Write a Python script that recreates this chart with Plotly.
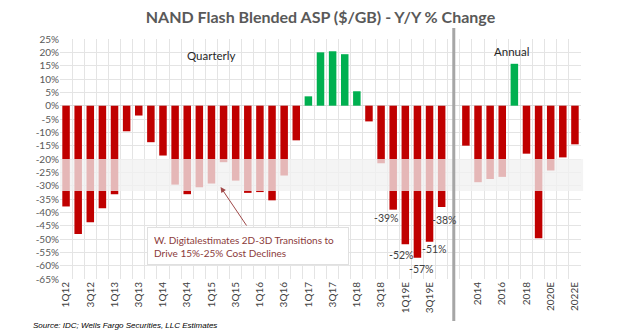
import plotly.graph_objects as go

# ---- data ----
quarters = ["1Q12", "2Q12", "3Q12", "4Q12", "1Q13", "2Q13", "3Q13", "4Q13",
            "1Q14", "2Q14", "3Q14", "4Q14", "1Q15", "2Q15", "3Q15", "4Q15",
            "1Q16", "2Q16", "3Q16", "4Q16", "1Q17", "2Q17", "3Q17", "4Q17",
            "1Q18", "2Q18", "3Q18", "4Q18", "1Q19E", "2Q19E", "3Q19E", "4Q19E"]
quarter_values = [-37.8, -48.1, -43.7, -38.5, -33.2, -9.6, -3.7, -13.7,
                  -18.7, -29.6, -33.2, -30.6, -29.2, -21.2, -28.1, -32.7,
                  -32.4, -35.5, -26.2, -13.0, 3.5, 20.0, 20.4, 19.3,
                  5.4, -5.9, -21.6, -39.0, -52.0, -57.0, -51.0, -38.0]
years = ["2013", "2014", "2015", "2016", "2017", "2018", "2019E", "2020E", "2021E", "2022E"]
year_values = [-15.0, -28.7, -27.5, -26.7, 15.7, -18.0, -49.7, -24.3, -19.4, -14.5]
gap = " "
shown_ticks = ["1Q12", "3Q12", "1Q13", "3Q13", "1Q14", "3Q14", "1Q15", "3Q15",
               "1Q16", "3Q16", "1Q17", "3Q17", "1Q18", "3Q18", "1Q19E", "3Q19E",
               "2014", "2016", "2018", "2020E", "2022E"]
labelled = ["4Q18", "1Q19E", "2Q19E", "3Q19E", "4Q19E"]
y_ticks = list(range(25, -70, -5))
band = (-32, -20)

# ---- styling ----
RED = "#C00000"
GREEN = "#00B050"
FONT = "Lato"
label_shift = {"4Q18": (-7, -8), "1Q19E": (-4, -11), "2Q19E": (4, -11),
               "3Q19E": (5, -7), "4Q19E": (3, -13)}

cats = quarters + [gap] + years
vals = quarter_values + [None] + year_values
colors = [GREEN if (v is not None and v > 0) else RED for v in vals]

fig = go.Figure()
fig.add_trace(go.Bar(x=cats, y=vals, marker=dict(color=colors, line=dict(width=0)),
                     width=0.62, hoverinfo="skip"))

ticktext = [c if c in shown_ticks else "" for c in cats]

fig.update_layout(
    width=617, height=333,
    margin=dict(l=60, r=36, t=39, b=54),
    paper_bgcolor="white", plot_bgcolor="white",
    showlegend=False,
    font=dict(family=FONT, color="#404040"),
    bargap=0.38,
    title=dict(text="<b>NAND Flash Blended ASP ($/GB) - Y/Y % Change</b>",
               x=0.5, xanchor="center", xref="paper", y=0.948, yanchor="middle",
               font=dict(size=16, color="#595959", family=FONT)),
    xaxis=dict(type="category", categoryorder="array", categoryarray=cats,
               tickmode="array", tickvals=cats, ticktext=ticktext,
               tickson="boundaries", ticks="", tickangle=-90,
               tickfont=dict(size=10, color="#404040", family=FONT),
               showgrid=True, gridcolor="#e4e4e4", gridwidth=1,
               showline=False, zeroline=False, automargin=False,
               range=[-0.5, len(cats) - 0.5]),
    yaxis=dict(range=[-65, 25], tickmode="array", tickvals=y_ticks,
               ticktext=[f"{v}%" for v in y_ticks],
               tickfont=dict(size=10, color="#595959", family=FONT),
               showgrid=True, gridcolor="#e4e4e4", gridwidth=1,
               zeroline=True, zerolinecolor="#d9d9d9", zerolinewidth=1,
               showline=False, automargin=False, ticks=""),
)

# shaded cost-decline band (overlaying the bars)
fig.add_shape(type="rect", xref="paper", yref="y", x0=0, x1=1.004,
              y0=band[0], y1=band[1], fillcolor="rgba(240,240,240,0.76)",
              line=dict(width=0), layer="above")
# divider between quarterly and annual
gap_idx = cats.index(gap)
fig.add_shape(type="line", xref="x", yref="paper", x0=gap_idx, x1=gap_idx,
              y0=-0.175, y1=1.046, line=dict(color="#a6a6a6", width=3), layer="above")

# section labels
fig.add_annotation(text="Quarterly", xref="x", yref="paper", x=quarters.index("3Q14") + 2.0,
                   y=0.93, yanchor="middle", showarrow=False,
                   font=dict(size=11.5, color="#262626", family=FONT))
fig.add_annotation(text="Annual", xref="x", yref="paper", x=cats.index("2017") - 0.2,
                   y=0.95, yanchor="middle", showarrow=False,
                   font=dict(size=11.5, color="#262626", family=FONT))

# data labels
for q in labelled:
    v = vals[cats.index(q)]
    dx, dy = label_shift[q]
    fig.add_annotation(text=f"{v:.0f}%", x=q, y=v, xref="x", yref="y", showarrow=False,
                       xshift=dx, yshift=dy, font=dict(size=10.5, color="#404040", family=FONT))

# callout box and arrow
fig.add_annotation(text="W. Digitalestimates 2D-3D Transitions to<br>Drive 15%-25% Cost Declines",
                   xref="paper", yref="paper", x=0.167, y=0.217, xanchor="left", yanchor="top",
                   showarrow=False, align="left", bgcolor="white", bordercolor="#e0e0e0",
                   borderwidth=1, borderpad=6, width=188, height=24,
                   font=dict(size=10, color="#8B3A3A", family=FONT))
fig.add_annotation(x=quarters.index("1Q15") + 0.75, y=-30.5, xref="x", yref="y",
                   ax=27, ay=40, showarrow=True, arrowhead=2, arrowsize=1.1,
                   arrowwidth=1, arrowcolor="#A04848", text="")

# source
fig.add_annotation(text="<i>Source: IDC; Wells Fargo Securities, LLC Estimates</i>",
                   xref="paper", yref="paper", x=-0.055, y=-0.195, xanchor="left",
                   yanchor="middle", showarrow=False,
                   font=dict(size=8, color="#000000", family="Liberation Sans"))

fig.write_html("out.html")
